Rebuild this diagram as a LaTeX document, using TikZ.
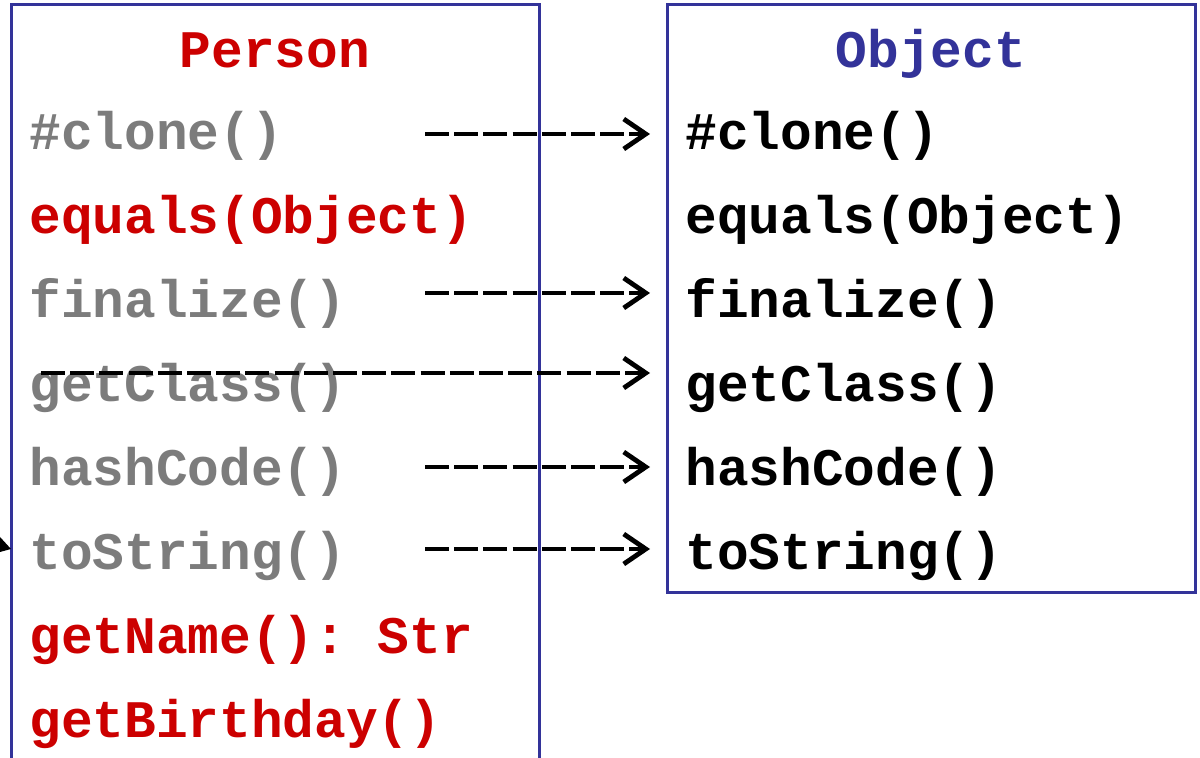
\documentclass[tikz,border=0pt]{standalone}
\usepackage{fontspec}
\setmonofont{Liberation Mono}
\usetikzlibrary{arrows.meta}
\definecolor{classred}{HTML}{CC0000}
\definecolor{inherited}{HTML}{7C7C7C}
\definecolor{classblue}{HTML}{333399}
\tikzset{
  classbox/.style={draw=classblue, line width=1.5pt},
  member/.style={anchor=base west, inner sep=0pt, font=\fontsize{26.4}{30}\selectfont\ttfamily\bfseries},
  title/.style={anchor=base, inner sep=0pt, font=\fontsize{26.4}{30}\selectfont\ttfamily\bfseries},
  own/.style={member, text=classred},
  inh/.style={member, text=inherited},
  base/.style={member, text=black},
  overrides/.style={draw=black, line width=1.6pt, dash pattern=on 12pt off 2.6pt,
    -{Straight Barb[length=11pt, width=15pt, line width=2.4pt]}},
}
\begin{document}
\begin{tikzpicture}[x=0.5pt, y=-0.5pt]
\useasboundingbox (0,0) rectangle (1200,758);
\clip (0,0) rectangle (1200,758);
\fill[white] (0,0) rectangle (1200,758);

% class boxes
\draw[classbox] (11,5) rectangle (539,790);
\draw[classbox] (667,5) rectangle (1195,593);

% Person
\node[title, text=classred] (person) at (275,68) {Person};
\node[inh] (pclone) at (29,150) {\#clone()};
\node[own] (pequals) at (29,234) {equals(Object)};
\node[inh] (pfinal) at (29,318) {finalize()};
\node[inh] (pclass) at (29,402) {getClass()};
\node[inh] (phash) at (29,486) {hashCode()};
\node[inh] (pstr) at (29,570) {toString()};
\node[own] (pname) at (29,654) {getName(): Str};
\node[own] (pbirth) at (29,738) {getBirthday()};

% Object
\node[title, text=classblue] (object) at (931,68) {Object};
\node[base] (oclone) at (685,150) {\#clone()};
\node[base] (oequals) at (685,234) {equals(Object)};
\node[base] (ofinal) at (685,318) {finalize()};
\node[base] (oclass) at (685,402) {getClass()};
\node[base] (ohash) at (685,486) {hashCode()};
\node[base] (ostr) at (685,570) {toString()};

% connector ends
\coordinate (s1) at (425,134);  \coordinate (e1) at (650,134);
\coordinate (s2) at (425,293);  \coordinate (e2) at (650,293);
\coordinate (s3) at (41,373);   \coordinate (e3) at (650,373);
\coordinate (s4) at (425,467);  \coordinate (e4) at (650,467);
\coordinate (s5) at (425,549);  \coordinate (e5) at (650,549);

\draw[overrides] (s1) -- (e1);
\draw[overrides] (s2) -- (e2);
\draw[overrides] (s3) -- (e3);
\draw[overrides] (s4) -- (e4);
\draw[overrides] (s5) -- (e5);

% arrowhead entering from the left edge
\fill[black] (0,537) -- (11,549) -- (0,552) -- cycle;
\end{tikzpicture}
\end{document}
